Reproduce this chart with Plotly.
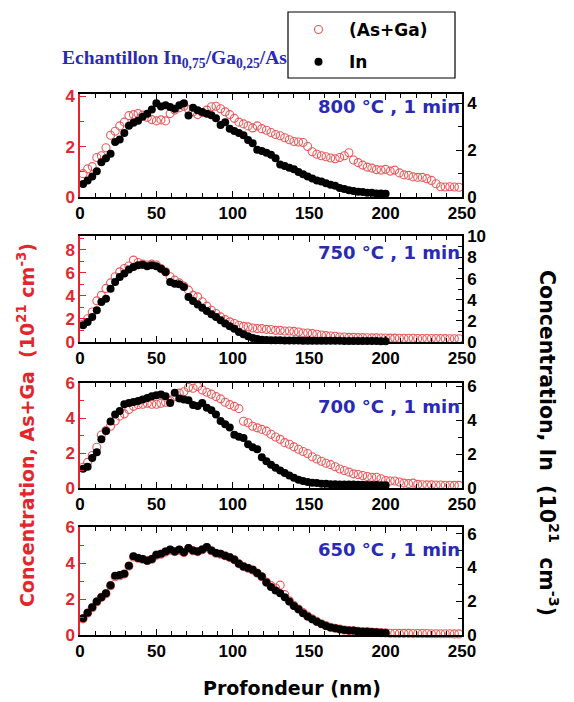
import plotly.graph_objects as go

# ---------------- data ----------------
# depth sampling grid (nm) of the SIMS profiles
DEPTH_IN = list(range(-4, 201, 3))   # In profiles, -4 .. 200 nm
DEPTH_AG = list(range(-4, 249, 3))   # (As+Ga) profiles, -4 .. 248 nm

TITLES = ["800 °C , 1 min", "750 °C , 1 min", "700 °C , 1 min", "650 °C , 1 min"]

IN_800 = [0.21, 0.34, 0.55, 0.70, 0.88, 1.10, 1.48, 1.66, 1.85, 2.35,
          2.46, 2.73, 3.04, 3.17, 3.26, 3.43, 3.56, 3.74, 4.00, 3.87,
          3.92, 3.85, 3.77, 3.92, 4.00, 3.48, 3.81, 3.71, 3.63, 3.56,
          3.49, 3.36, 3.08, 3.19, 2.92, 2.82, 2.73, 2.64, 2.44, 2.30,
          2.02, 1.96, 1.89, 1.80, 1.66, 1.39, 1.32, 1.25, 1.19, 1.07,
          0.97, 0.88, 0.79, 0.70, 0.66, 0.59, 0.52, 0.48, 0.38, 0.34,
          0.29, 0.26, 0.22, 0.21, 0.18, 0.18, 0.15, 0.15, 0.14]
AG_800 = [0.48, 0.80, 0.93, 1.12, 1.21, 1.57, 1.64, 1.96, 2.46, 2.62,
          2.83, 2.98, 3.24, 3.28, 3.32, 3.26, 3.17, 3.08, 3.03, 3.07,
          3.03, 3.32, 3.46, 3.55, 3.61, 3.49, 3.39, 3.28, 3.36, 3.46,
          3.59, 3.61, 3.51, 3.39, 3.28, 3.13, 2.98, 2.91, 2.83, 2.75,
          2.83, 2.72, 2.66, 2.57, 2.49, 2.44, 2.36, 2.28, 2.21, 2.19,
          2.17, 2.01, 1.80, 1.70, 1.64, 1.60, 1.55, 1.52, 1.57, 1.64,
          1.76, 1.47, 1.37, 1.27, 1.19, 1.15, 1.09, 1.07, 1.10, 1.03,
          1.07, 0.96, 0.88, 0.86, 0.80, 0.78, 0.78, 0.73, 0.66, 0.53,
          0.41, 0.40, 0.41, 0.40, 0.39]

IN_750 = [0.63, 0.85, 1.58, 1.90, 2.37, 3.00, 3.79, 4.10, 5.05, 5.68,
          6.15, 6.47, 6.85, 7.10, 7.26, 7.30, 7.16, 7.26, 7.16, 6.94,
          6.62, 5.68, 5.52, 5.46, 5.20, 4.26, 3.88, 3.56, 3.25, 2.93,
          2.62, 2.37, 2.05, 1.74, 1.48, 1.26, 0.95, 0.73, 0.54, 0.38,
          0.28, 0.22, 0.18, 0.17, 0.16, 0.16, 0.15, 0.15, 0.14, 0.14,
          0.13, 0.13, 0.13, 0.12, 0.12, 0.12, 0.11, 0.11, 0.11, 0.10,
          0.10, 0.10, 0.10, 0.09, 0.09, 0.09, 0.09, 0.08, 0.08]
AG_750 = [0.43, 0.87, 1.54, 2.02, 2.61, 3.57, 4.05, 4.65, 5.13, 5.66,
          6.09, 6.38, 6.59, 7.11, 6.90, 6.76, 6.68, 6.76, 6.68, 6.38,
          6.09, 5.66, 5.37, 5.13, 4.85, 4.50, 4.05, 3.92, 3.49, 3.11,
          2.76, 2.47, 2.18, 1.94, 1.75, 1.60, 1.45, 1.36, 1.31, 1.21,
          1.16, 1.16, 1.10, 1.08, 1.01, 1.01, 0.96, 0.96, 0.92, 0.87,
          0.78, 0.78, 0.73, 0.67, 0.61, 0.55, 0.52, 0.50, 0.43, 0.43,
          0.40, 0.40, 0.38, 0.38, 0.37, 0.36, 0.36, 0.35, 0.35, 0.34,
          0.34, 0.33, 0.33, 0.32, 0.32, 0.31, 0.31, 0.30, 0.30, 0.30,
          0.29, 0.29, 0.28, 0.28, 0.28]

IN_700 = [0.41, 0.84, 1.13, 1.26, 1.77, 2.11, 2.88, 3.37, 3.92, 4.34,
          4.54, 4.94, 5.02, 5.08, 5.13, 5.23, 5.32, 5.42, 5.48, 5.52,
          5.42, 5.02, 5.62, 5.28, 5.23, 5.18, 4.90, 4.84, 5.02, 4.74,
          4.59, 4.34, 3.96, 3.76, 3.57, 3.14, 3.02, 2.95, 2.59, 2.40,
          2.29, 1.81, 1.58, 1.38, 1.19, 1.04, 0.88, 0.74, 0.60, 0.49,
          0.41, 0.35, 0.31, 0.29, 0.25, 0.25, 0.22, 0.22, 0.21, 0.21,
          0.20, 0.20, 0.19, 0.19, 0.18, 0.18, 0.17, 0.16, 0.16]
AG_700 = [0.28, 0.85, 1.19, 1.47, 1.86, 2.34, 3.04, 3.30, 3.54, 3.84,
          4.12, 4.25, 4.50, 4.68, 4.78, 4.80, 4.86, 4.80, 4.80, 4.86,
          4.92, 5.00, 5.24, 5.44, 5.52, 5.76, 5.72, 5.82, 5.62, 5.49,
          5.38, 5.24, 5.11, 4.92, 4.78, 4.68, 4.55, 3.83, 3.74, 3.54,
          3.45, 3.36, 3.26, 3.08, 2.92, 2.79, 2.60, 2.51, 2.36, 2.22,
          2.09, 1.98, 1.79, 1.66, 1.53, 1.42, 1.34, 1.22, 1.09, 1.00,
          0.91, 0.81, 0.77, 0.72, 0.66, 0.62, 0.62, 0.53, 0.43, 0.40,
          0.40, 0.34, 0.28, 0.25, 0.28, 0.21, 0.19, 0.18, 0.18, 0.17,
          0.17, 0.16, 0.16, 0.15, 0.15]

IN_650 = [0.49, 0.69, 0.99, 1.32, 1.64, 1.98, 2.24, 2.48, 2.95, 3.51,
          3.56, 3.63, 4.10, 4.66, 4.56, 4.50, 4.40, 4.50, 4.76, 4.81,
          4.95, 5.06, 4.95, 5.06, 4.90, 5.15, 5.01, 4.95, 5.06, 5.21,
          5.01, 4.86, 4.81, 4.70, 4.61, 4.46, 4.22, 4.06, 3.97, 3.87,
          3.67, 3.47, 3.11, 2.84, 2.64, 2.48, 2.24, 1.98, 1.72, 1.52,
          1.29, 1.09, 0.93, 0.79, 0.65, 0.54, 0.45, 0.40, 0.34, 0.29,
          0.26, 0.26, 0.22, 0.20, 0.20, 0.18, 0.16, 0.14, 0.12]
AG_650 = [0.45, 0.62, 0.90, 1.22, 1.52, 1.85, 2.10, 2.30, 2.75, 3.25,
          3.30, 3.40, 3.85, 4.35, 4.28, 4.22, 4.15, 4.22, 4.45, 4.50,
          4.62, 4.72, 4.65, 4.72, 4.60, 4.82, 4.70, 4.65, 4.75, 4.88,
          4.70, 4.56, 4.50, 4.42, 4.32, 4.20, 3.98, 3.82, 3.72, 3.62,
          3.45, 3.25, 2.95, 2.75, 2.62, 2.78, 2.25, 1.90, 1.65, 1.45,
          1.25, 1.05, 0.90, 0.76, 0.63, 0.52, 0.43, 0.38, 0.33, 0.28,
          0.25, 0.24, 0.21, 0.19, 0.19, 0.17, 0.15, 0.13, 0.12, 0.10,
          0.10, 0.09, 0.09, 0.09, 0.08, 0.08, 0.08, 0.08, 0.07, 0.07,
          0.07, 0.07, 0.07, 0.06, 0.06]

AG_SERIES = [AG_800, AG_750, AG_700, AG_650]
IN_SERIES = [IN_800, IN_750, IN_700, IN_650]

X_TICKS = [0, 50, 100, 150, 200, 250]
LEFT_RANGES = [[0, 4.1], [0, 9.2], [0, 6.02], [0, 6.02]]
RIGHT_RANGES = [[0, 4.4], [0, 10.03], [0, 6.2], [0, 6.4]]

# ---------------- layout geometry ----------------
# the page body adds an 8 px offset; positions below are given in window px
OFF = 8
W, H = 574 - OFF, 702 - OFF
PLOT_L, PLOT_R, PLOT_T, PLOT_B = 80, 462, 94, 635
ML, MR, MT, MB = PLOT_L - OFF, W - (PLOT_R - OFF), PLOT_T - OFF, H - (PLOT_B - OFF)
PW, PH = W - ML - MR, H - MT - MB
PANELS_PX = [(94, 197), (236, 342), (383, 488), (527, 635)]   # top, bottom (window px)
LABEL_DY = [13, 17, 23, 22]
LEGEND_BOX = (288, 12, 455, 78)   # x0, y0, x1, y1 (window px)


def py(px):
    return (PLOT_B - px) / PH


def pxx(px):
    return (px - PLOT_L) / PW


RED = "#e3262b"
RED_MK = "#e8585a"
BLUE = "#2a2ab4"
TICKFONT = "Arial, Liberation Sans"
WIDEFONT = "DejaVu Sans"
AXFONT = dict(family=TICKFONT, size=17, color="black", weight="bold")

fig = go.Figure()

for i in range(4):
    n = i + 1
    xa = "x" if n == 1 else f"x{n}"
    yl = "y" if n == 1 else f"y{2 * n - 1}"
    yr = f"y{2 * n}"
    fig.add_trace(go.Scatter(
        x=DEPTH_AG, y=AG_SERIES[i], xaxis=xa, yaxis=yl, mode="markers",
        name="(As+Ga)", legendgroup="ag", showlegend=(n == 1), cliponaxis=False,
        marker=dict(symbol="circle-open", size=8, color=RED_MK, line=dict(width=1.1))))
    fig.add_trace(go.Scatter(
        x=DEPTH_IN, y=IN_SERIES[i], xaxis=xa, yaxis=yr, mode="markers",
        name="In", legendgroup="in", showlegend=(n == 1), cliponaxis=False,
        marker=dict(symbol="circle", size=8, color="black")))

layout = dict(
    width=W, height=H, margin=dict(l=ML, r=MR, t=MT, b=MB, autoexpand=False),
    paper_bgcolor="white", plot_bgcolor="white",
    legend=dict(xref="container", yref="container",
                x=(LEGEND_BOX[0] - OFF) / W, y=1 - (LEGEND_BOX[1] - OFF) / H,
                xanchor="left", yanchor="top",
                borderwidth=0, bgcolor="rgba(0,0,0,0)",
                font=dict(family=WIDEFONT, size=17, color="black", weight="bold"),
                itemwidth=51, tracegroupgap=7),
    shapes=[dict(type="rect", xref="paper", yref="paper", layer="above",
                 x0=pxx(LEGEND_BOX[0]), x1=pxx(LEGEND_BOX[2]),
                 y0=py(LEGEND_BOX[3]), y1=py(LEGEND_BOX[1]),
                 line=dict(color="black", width=1.2), fillcolor="rgba(0,0,0,0)")],
)

for i in range(4):
    n = i + 1
    top, bot = PANELS_PX[i]
    dom = [py(bot), py(top)]
    xkey = "xaxis" if n == 1 else f"xaxis{n}"
    ylkey = "yaxis" if n == 1 else f"yaxis{2 * n - 1}"
    yrkey = f"yaxis{2 * n}"
    ylname = "y" if n == 1 else f"y{2 * n - 1}"
    xname = "x" if n == 1 else f"x{n}"
    layout[xkey] = dict(
        domain=[0, 1], anchor=ylname, range=[0, 250], tickvals=X_TICKS,
        ticks="inside", ticklen=6, tickwidth=1.3, tickcolor="black",
        showline=True, linecolor="black", linewidth=1.5, mirror="ticks",
        showgrid=False, zeroline=False, tickfont=AXFONT,
        minor=dict(dtick=10, ticks="inside", ticklen=4, tickcolor="black", showgrid=False))
    layout[ylkey] = dict(
        domain=dom, anchor=xname, range=LEFT_RANGES[i], dtick=2,
        ticks="inside", ticklen=6, tickwidth=1.3, tickcolor=RED,
        showline=True, linecolor=RED, linewidth=1.5,
        showgrid=False, zeroline=False,
        tickfont=dict(family=TICKFONT, size=17, color=RED, weight="bold"),
        minor=dict(dtick=1, ticks="inside", ticklen=4, tickcolor=RED, showgrid=False))
    layout[yrkey] = dict(
        domain=dom, anchor=xname, overlaying=ylname, side="right",
        range=RIGHT_RANGES[i], dtick=2,
        ticks="inside", ticklen=6, tickwidth=1.3, tickcolor="black",
        showline=True, linecolor="black", linewidth=1.5,
        showgrid=False, zeroline=False, tickfont=AXFONT,
        minor=dict(dtick=1, ticks="inside", ticklen=4, tickcolor="black", showgrid=False))

fig.update_layout(**layout)

annotations = []
for i in range(4):
    top, bot = PANELS_PX[i]
    annotations.append(dict(
        text=f"<b>{TITLES[i]}</b>", xref="paper", yref="paper",
        x=1.0, y=py(top + LABEL_DY[i]), xanchor="right", yanchor="middle",
        showarrow=False, font=dict(family=WIDEFONT, size=18, color=BLUE)))

annotations.append(dict(
    text="<b>Echantillon In<sub>0,75</sub>/Ga<sub>0,25</sub>/As</b>",
    xref="paper", yref="paper", x=pxx(60), y=py(59), xanchor="left", yanchor="middle",
    showarrow=False, font=dict(family="Liberation Serif, Times New Roman", size=19.5, color=BLUE)))

annotations.append(dict(
    text="<b>Concentration, As+Ga  (10<sup>21</sup> cm<sup>-3</sup>)</b>",
    xref="paper", yref="paper", x=pxx(26), y=py(425), xanchor="center", yanchor="middle",
    textangle=-90, showarrow=False,
    font=dict(family=WIDEFONT, size=19, color=RED)))

annotations.append(dict(
    text="<b>Concentration, In  (10<sup>21</sup>  cm<sup>-3</sup>)</b>",
    xref="paper", yref="paper", x=pxx(549), y=py(443), xanchor="center", yanchor="middle",
    textangle=90, showarrow=False,
    font=dict(family=WIDEFONT, size=20.5, color="black")))

annotations.append(dict(
    text="<b>Profondeur (nm)</b>",
    xref="paper", yref="paper", x=pxx(292), y=py(688), xanchor="center", yanchor="middle",
    showarrow=False, font=dict(family=WIDEFONT, size=19, color="black")))

fig.update_layout(annotations=annotations)

fig.write_html("out.html")
